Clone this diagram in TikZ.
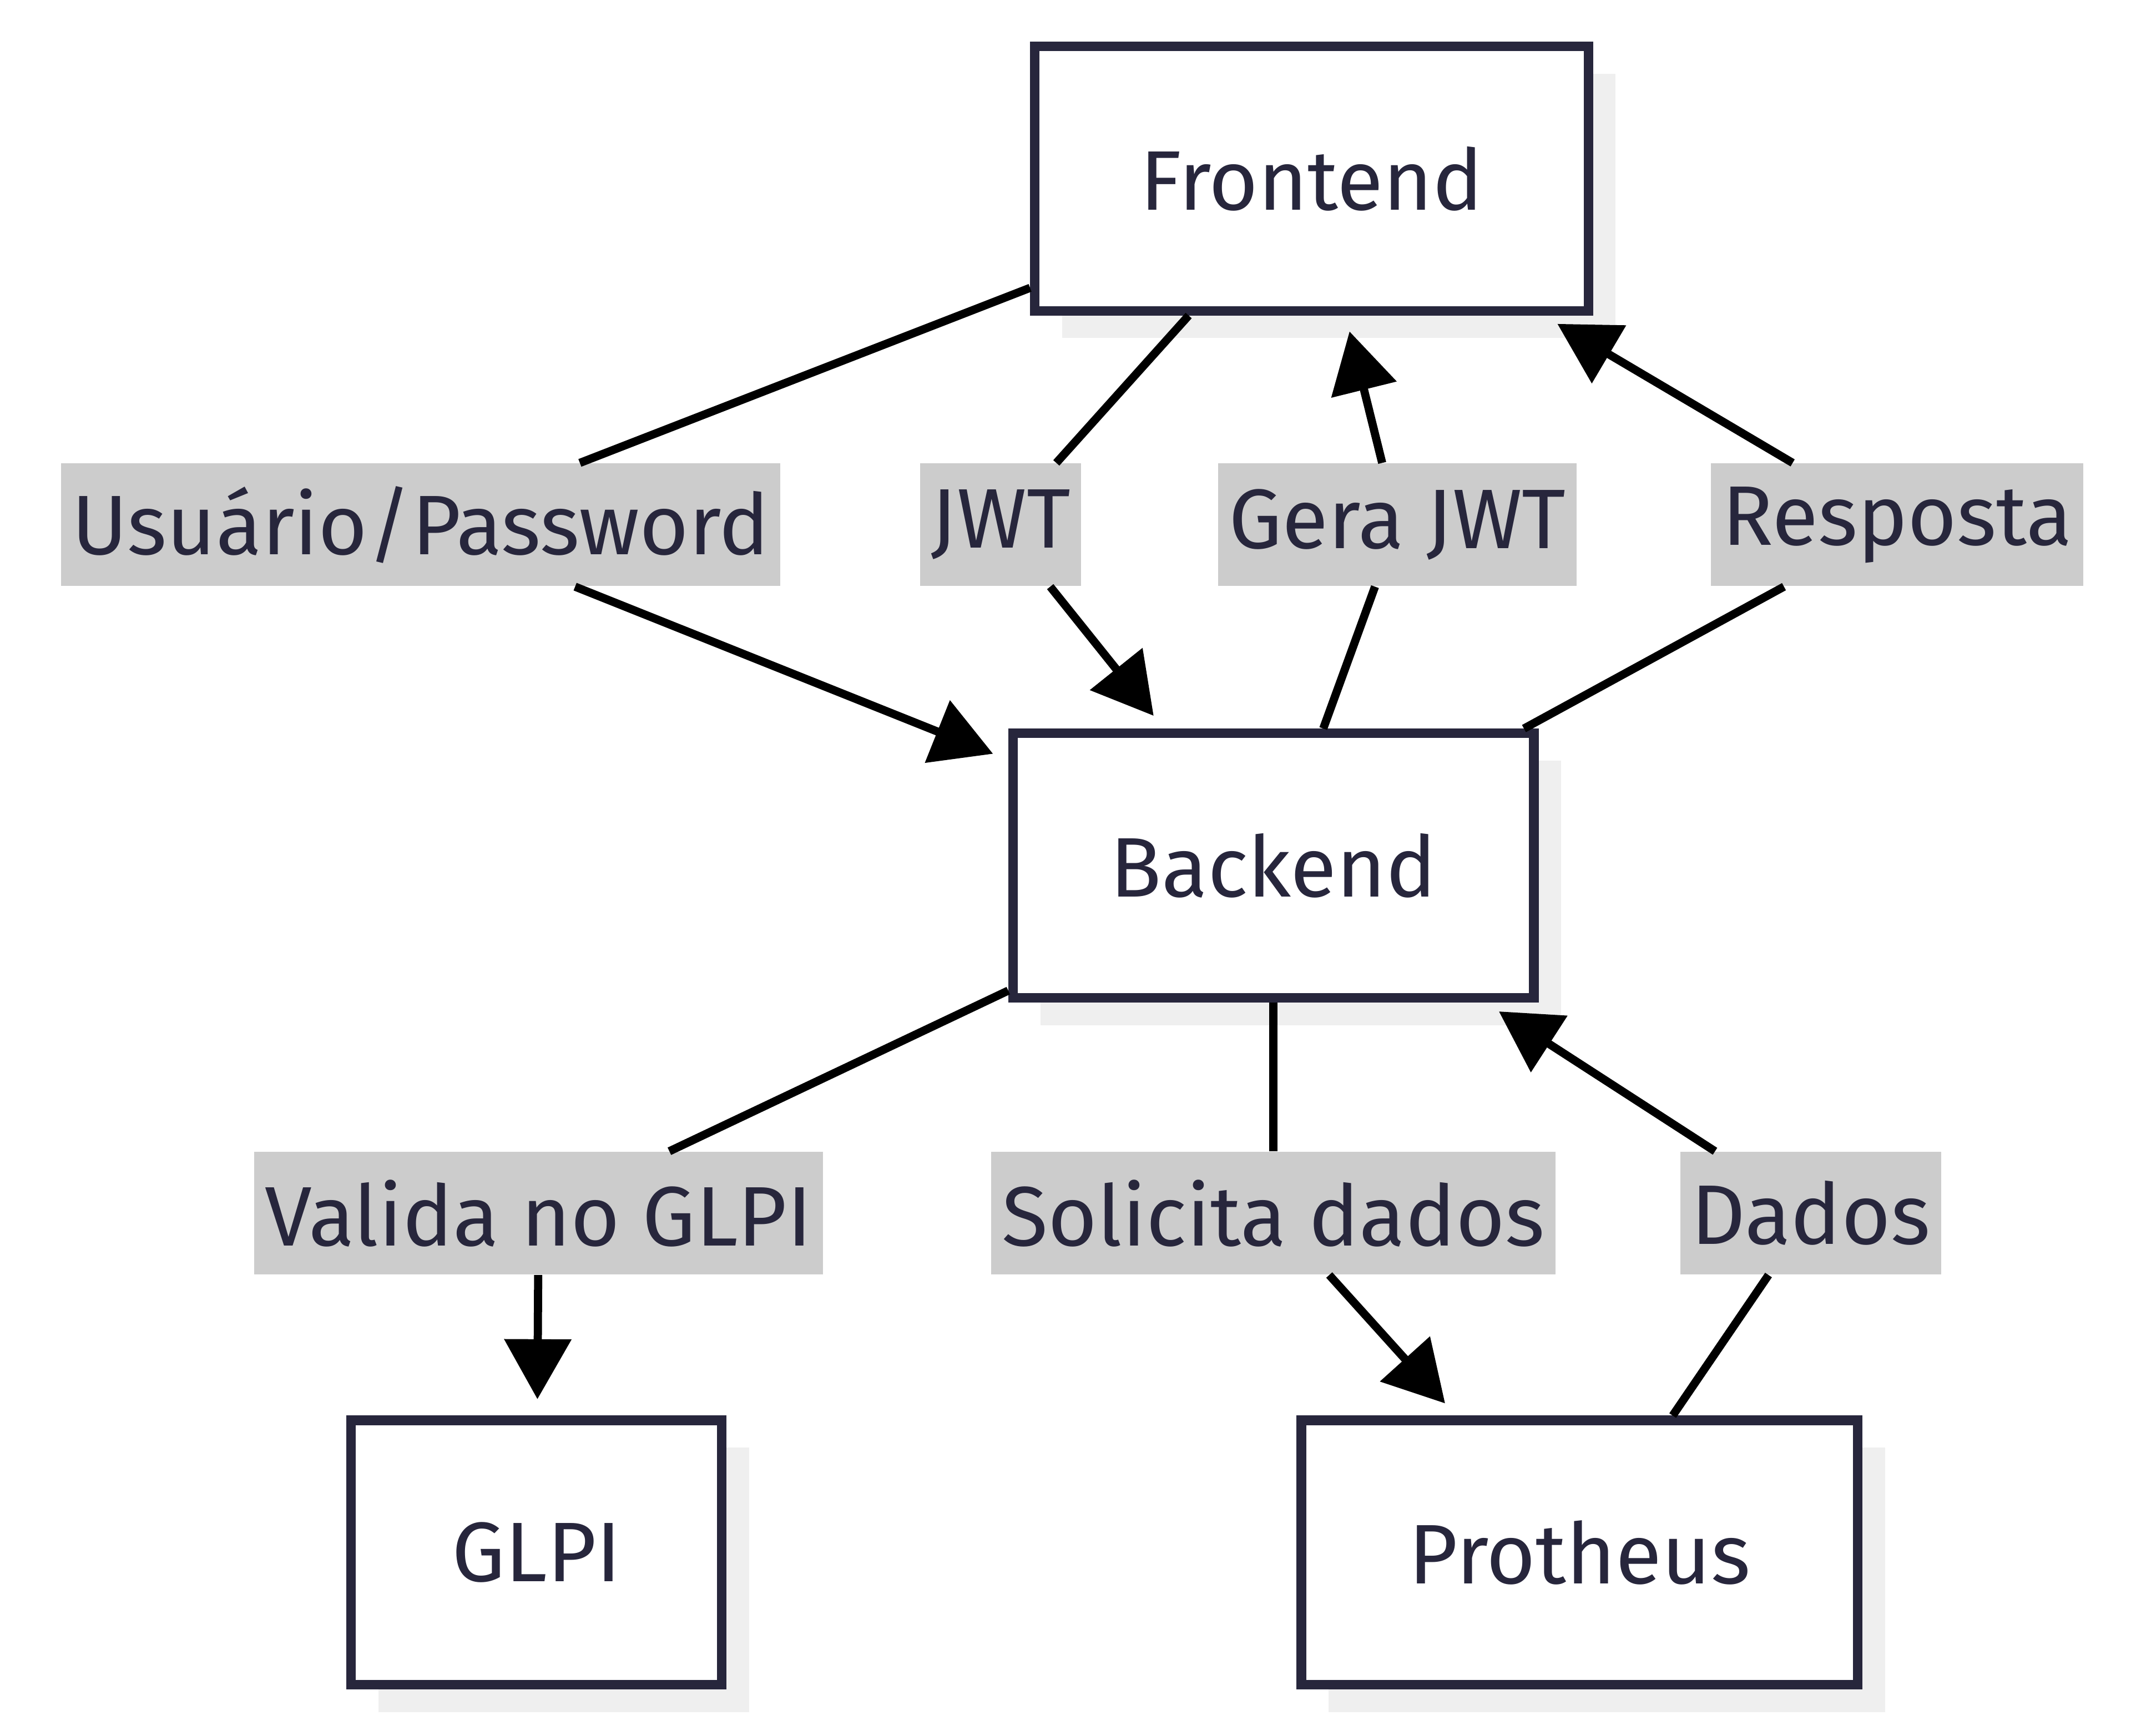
\documentclass[tikz,border=0pt]{standalone}
\usepackage{fontspec}
\setmainfont{Fira Sans}
\usetikzlibrary{arrows.meta,shadows}
\definecolor{boxline}{HTML}{27263C}
\definecolor{lblgray}{HTML}{CCCCCC}
\definecolor{shadowgray}{HTML}{EFEFEF}
\tikzset{
  box/.style={draw=boxline, line width=3.5pt, fill=white, text=boxline,
    minimum height=97pt, font=\fontsize{31}{37}\selectfont,
    drop shadow={shadow xshift=10pt, shadow yshift=-10pt, fill=shadowgray, opacity=1}},
  lbl/.style={fill=lblgray, text=boxline, minimum height=45pt, inner xsep=4pt,
    font=\fontsize{31}{37}\selectfont},
  link/.style={black, line width=3pt},
  flow/.style={link, -{Triangle[length=22pt,width=24pt]}, shorten >=6pt}
}
\begin{document}
\begin{tikzpicture}[x=0.5pt, y=-0.5pt]
        \useasboundingbox (0,0) rectangle (1563,1273.6);

        \node[box, minimum width=203pt] (front) at (962,131) {Frontend};
        \node[box, minimum width=191pt] (back) at (934,635) {Backend};
        \node[box, minimum width=136pt] (glpi) at (393.5,1139) {GLPI};
        \node[box, minimum width=204pt] (prot) at (1158.5,1139) {Protheus};

        \node[lbl] (user) at (308.5,385) {Usuário/Password};
        \node[lbl] (jwt) at (734,385) {JWT};
        \node[lbl] (gera) at (1025,385) {Gera JWT};
        \node[lbl] (resp) at (1391.5,385) {Resposta};
        \node[lbl] (valida) at (395,890) {Valida no GLPI};
        \node[lbl] (solic) at (934,890) {Solicita dados};
        \node[lbl] (dados) at (1328,890) {Dados};

        \draw [link] (front) -- (user);
        \draw [flow] (user) -- (back);
        \draw [link] (front) -- (jwt);
        \draw [flow] (jwt) -- (back);

        \draw [link] (back) -- (gera);
        \draw [flow] (gera) -- (front);
        \draw [link] (back) -- (resp);
        \draw [flow] (resp) -- (front);

        \draw [link] (back) -- (valida);
        \draw [flow] (valida) -- (glpi);
        \draw [link] (back) -- (solic);
        \draw [flow] (solic) -- (prot);
        \draw [link] (prot) -- (dados);
        \draw [flow] (dados) -- (back);

    \end{tikzpicture}
\end{document}
